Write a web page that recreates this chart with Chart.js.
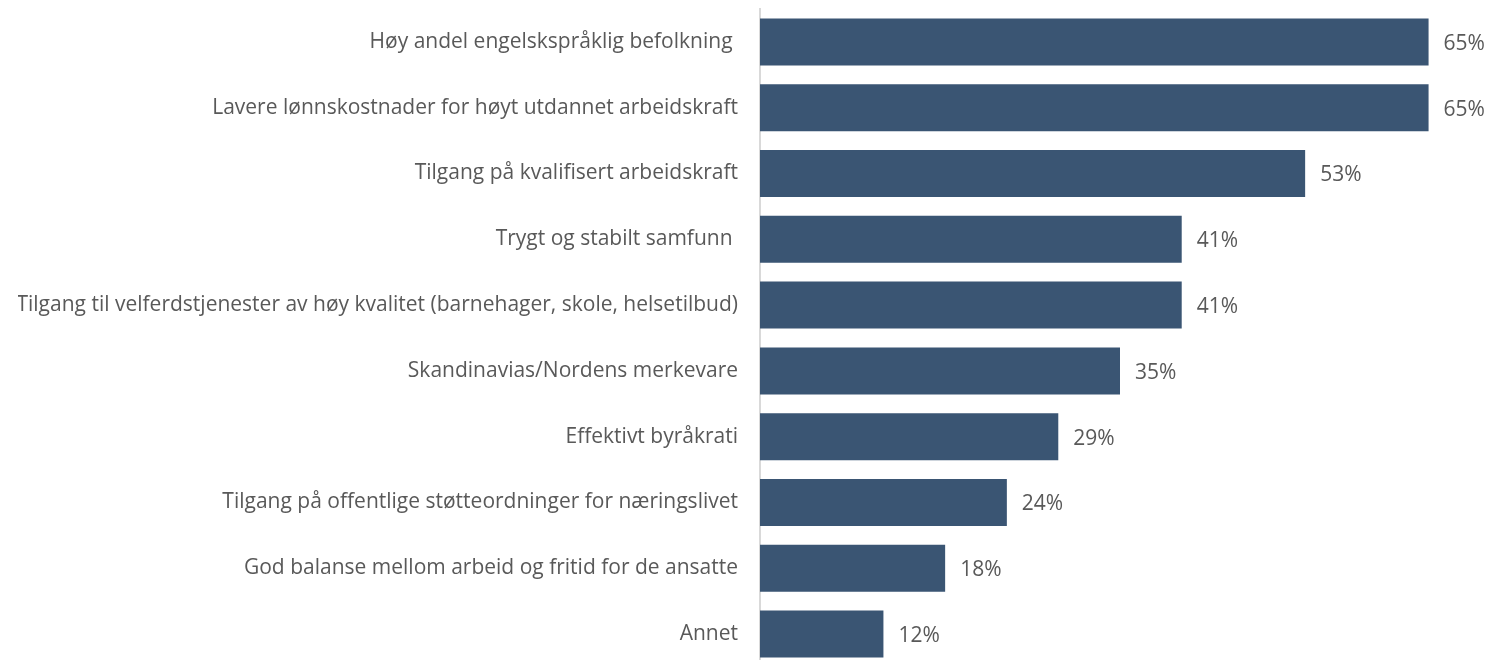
<!DOCTYPE html>
<html>
<head>
<meta charset="utf-8">
<script src="https://cdn.jsdelivr.net/npm/chart.js@4.4.1/dist/chart.umd.min.js"></script>
<style>
  html, body { margin: 0; padding: 0; background: #fff; overflow: hidden; }
  /* a bit taller than the window: the last row runs into the bottom edge */
  #wrap { width: 1489px; height: 667px; position: relative; }
</style>
</head>
<body>
<div id="wrap"><canvas id="reasonsChart"></canvas></div>
<script>
const categories = [
  "Høy andel engelskspråklig befolkning ",
  "Lavere lønnskostnader for høyt utdannet arbeidskraft",
  "Tilgang på kvalifisert arbeidskraft",
  "Trygt og stabilt samfunn ",
  "Tilgang til velferdstjenester av høy kvalitet (barnehager, skole, helsetilbud)",
  "Skandinavias/Nordens merkevare",
  "Effektivt byråkrati",
  "Tilgang på offentlige støtteordninger for næringslivet",
  "God balanse mellom arbeid og fritid for de ansatte",
  "Annet",
];

const shares = [65, 65, 53, 41, 41, 35, 29, 24, 18, 12];

const FONT = "'Open Sans', sans-serif";
const TEXT = "#595959";

// draws the "65%" labels to the right of each bar
const valueLabels = {
  id: "valueLabels",
  afterDatasetsDraw(chart) {
    const ctx = chart.ctx;
    const meta = chart.getDatasetMeta(0);
    ctx.save();
    ctx.font = "21px " + FONT;
    ctx.fillStyle = TEXT;
    ctx.textAlign = "left";
    ctx.textBaseline = "middle";
    meta.data.forEach(function (bar, i) {
      ctx.fillText(shares[i] + "%", bar.x + 15, bar.y + 2);
    });
    ctx.restore();
  },
};

const reasonsChart = new Chart(document.getElementById("reasonsChart"), {
  type: "bar",
  data: {
    labels: categories,
    datasets: [
      {
        data: shares,
        backgroundColor: "#3A5573",
        borderWidth: 0,
        barPercentage: 0.715,
        categoryPercentage: 1,
      },
    ],
  },
  options: {
    indexAxis: "y",
    responsive: true,
    maintainAspectRatio: false,
    animation: false,
    layout: { padding: { top: 9, right: 9, bottom: 0, left: 18 } },
    plugins: {
      legend: { display: false },
      tooltip: { enabled: false },
    },
    scales: {
      x: {
        display: false,
        min: 0,
        max: 70,
      },
      y: {
        grid: { display: false, drawTicks: false },
        border: { display: true, color: "#d9d9d9", width: 2 },
        ticks: {
          color: TEXT,
          padding: 22,
          font: { family: FONT, size: 21 },
        },
        afterFit(scale) {
          // long labels: chart.js would cap the axis at half the width
          scale.width = 742;
          scale.paddingTop = 0;
          scale.paddingBottom = 0;
        },
      },
    },
  },
  plugins: [valueLabels],
});
</script>
</body>
</html>
